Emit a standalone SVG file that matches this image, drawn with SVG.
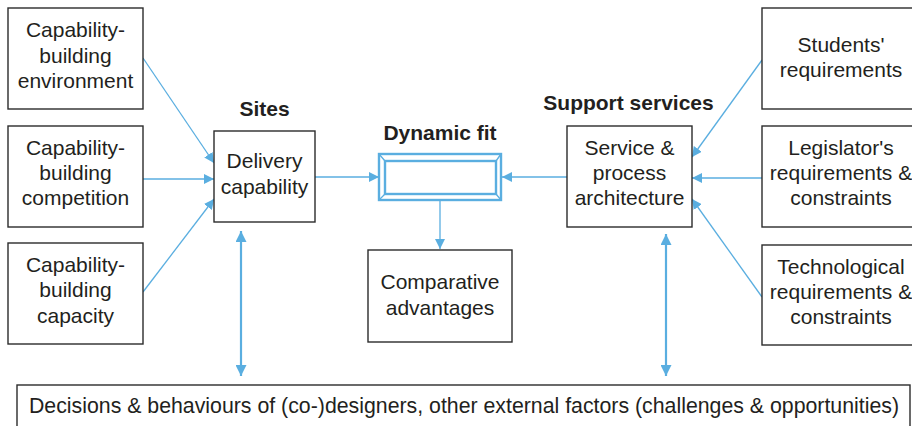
<svg xmlns="http://www.w3.org/2000/svg" width="912" height="426" viewBox="0 0 912 426">
  <defs>
    <marker id="ah" viewBox="0 0 10 10" refX="10" refY="5" markerWidth="10" markerHeight="10" markerUnits="userSpaceOnUse" orient="auto-start-reverse">
      <path d="M0,0 L10,5 L0,10 Z" fill="#5aaee0"/>
    </marker>
    <marker id="ahb" viewBox="0 0 10 10" refX="10" refY="5" markerWidth="11" markerHeight="11" markerUnits="userSpaceOnUse" orient="auto-start-reverse">
      <path d="M0,0 L10,5 L0,10 Z" fill="#5aaee0"/>
    </marker>
  </defs>
  <style>
    .box { fill: #ffffff; stroke: #2b2b2b; stroke-width: 1.4; }
    .t { font-family: "Liberation Sans", Arial, sans-serif; font-size: 21px; fill: #231f20; text-anchor: middle; }
    .h { font-family: "Liberation Sans", Arial, sans-serif; font-size: 21px; font-weight: bold; fill: #231f20; text-anchor: middle; }
    .c { stroke: #5aaee0; stroke-width: 1.3; fill: none; }
    .cw { stroke: #5aaee0; stroke-width: 2.2; fill: none; }
    .fit { stroke: #5aaee0; stroke-width: 2.4; fill: #ffffff; }
  </style>

  <rect width="912" height="426" fill="#ffffff"/>

  <!-- connectors -->
  <g id="connectors">
    <line class="c" x1="143" y1="58" x2="214" y2="163" marker-end="url(#ah)"/>
    <line class="c" x1="143" y1="179" x2="214" y2="179" marker-end="url(#ah)"/>
    <line class="c" x1="143" y1="292" x2="214" y2="199" marker-end="url(#ah)"/>
    <line class="c" x1="315" y1="177" x2="379" y2="177" marker-end="url(#ah)"/>
    <line class="c" x1="567" y1="177" x2="502" y2="177" marker-end="url(#ah)"/>
    <line class="c" x1="440" y1="200" x2="440" y2="249" marker-end="url(#ah)"/>
    <line class="c" x1="762" y1="60" x2="692" y2="157" marker-end="url(#ah)"/>
    <line class="c" x1="762" y1="178" x2="692" y2="178" marker-end="url(#ah)"/>
    <line class="c" x1="762" y1="297" x2="692" y2="199" marker-end="url(#ah)"/>
    <line class="cw" x1="241" y1="231" x2="241" y2="376" marker-start="url(#ahb)" marker-end="url(#ahb)"/>
    <line class="cw" x1="666" y1="234" x2="666" y2="376" marker-start="url(#ahb)" marker-end="url(#ahb)"/>
  </g>

  <!-- left inputs -->
  <g id="cb-environment">
    <rect class="box" x="8" y="8" width="135" height="101"/>
    <text class="t" x="75.5" y="37">Capability-</text>
    <text class="t" x="75.5" y="63">building</text>
    <text class="t" x="75.5" y="88">environment</text>
  </g>
  <g id="cb-competition">
    <rect class="box" x="8" y="126" width="135" height="101"/>
    <text class="t" x="75.5" y="155">Capability-</text>
    <text class="t" x="75.5" y="180">building</text>
    <text class="t" x="75.5" y="205">competition</text>
  </g>
  <g id="cb-capacity">
    <rect class="box" x="8" y="243" width="135" height="101"/>
    <text class="t" x="75.5" y="272">Capability-</text>
    <text class="t" x="75.5" y="297">building</text>
    <text class="t" x="75.5" y="323">capacity</text>
  </g>

  <!-- sites -->
  <g id="delivery">
    <text class="h" x="264.5" y="116">Sites</text>
    <rect class="box" x="214" y="131" width="101" height="91"/>
    <text class="t" x="264.5" y="168">Delivery</text>
    <text class="t" x="264.5" y="194">capability</text>
  </g>

  <!-- dynamic fit -->
  <g id="dynamic-fit">
    <text class="h" x="440" y="140">Dynamic fit</text>
    <rect class="fit" x="379" y="154" width="122" height="46"/>
    <rect class="fit" x="385" y="161" width="111" height="33"/>
    <path class="c" d="M379,154 L385,161 M501,154 L496,161 M379,200 L385,194 M501,200 L496,194" stroke-width="1.6"/>
  </g>

  <g id="comparative">
    <rect class="box" x="368" y="250" width="144" height="92"/>
    <text class="t" x="440" y="289">Comparative</text>
    <text class="t" x="440" y="315">advantages</text>
  </g>

  <!-- support services -->
  <g id="service">
    <text class="h" x="628.5" y="110">Support services</text>
    <rect class="box" x="567" y="126" width="125" height="101"/>
    <text class="t" x="629.5" y="155">Service &amp;</text>
    <text class="t" x="629.5" y="180">process</text>
    <text class="t" x="629.5" y="205">architecture</text>
  </g>

  <!-- right inputs -->
  <g id="students">
    <rect class="box" x="762" y="8" width="160" height="101"/>
    <text class="t" x="841" y="52">Students'</text>
    <text class="t" x="841" y="77">requirements</text>
  </g>
  <g id="legislator">
    <rect class="box" x="762" y="126" width="160" height="101"/>
    <text class="t" x="841" y="155">Legislator's</text>
    <text class="t" x="841" y="180">requirements &amp;</text>
    <text class="t" x="841" y="205">constraints</text>
  </g>
  <g id="technological">
    <rect class="box" x="762" y="245" width="160" height="100"/>
    <text class="t" x="841" y="274">Technological</text>
    <text class="t" x="841" y="299">requirements &amp;</text>
    <text class="t" x="841" y="324">constraints</text>
  </g>

  <!-- external factors -->
  <g id="external">
    <rect class="box" x="17" y="385" width="893" height="60"/>
    <text class="t" x="464" y="413" style="font-size:21.3px">Decisions &amp; behaviours of (co-)designers, other external factors (challenges &amp; opportunities)</text>
  </g>
</svg>
